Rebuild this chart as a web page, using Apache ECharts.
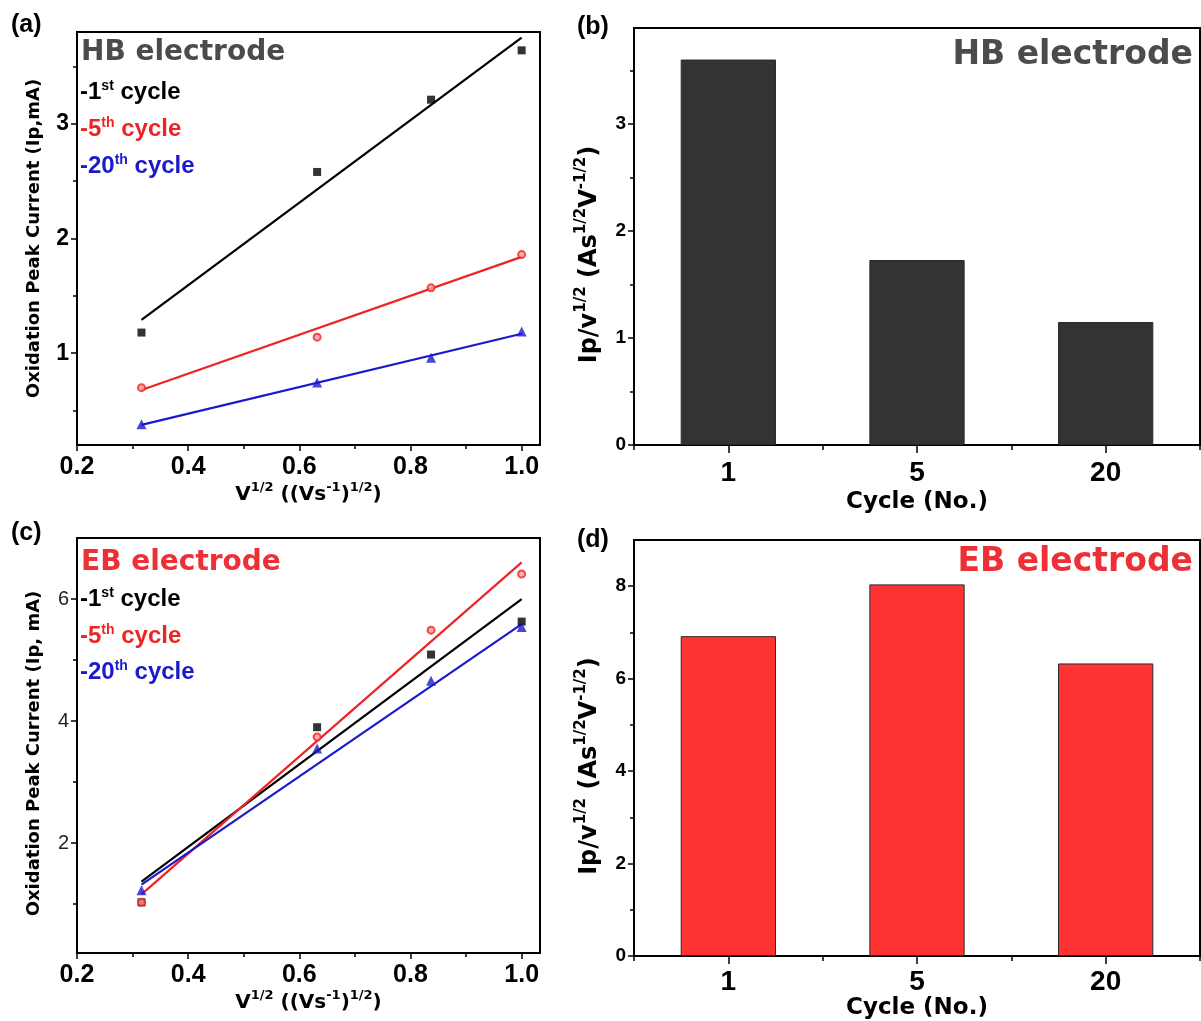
<!DOCTYPE html>
<html>
<head>
<meta charset="utf-8">
<script src="https://cdn.jsdelivr.net/npm/echarts@6/dist/echarts.min.js"></script>
<style>
  html, body { margin: 0; padding: 0; background: #fff; }
  #chart { width: 1201px; height: 1021px; }
</style>
</head>
<body>
<div id="chart"></div>
<script>
// Square root of scan rate, (V/s)^1/2
const sqrtScanRate = [0.316, 0.632, 0.837, 1.0];
// Ends of the linear fits (first and last scan rate)
const fitRange = [0.316, 1.0];

// HB electrode: oxidation peak current (mA)
const hbCycle1 = [1.18, 2.58, 3.21, 3.64];
const hbCycle5 = [0.70, 1.14, 1.57, 1.86];
const hbCycle20 = [0.38, 0.745, 0.96, 1.19];
const hbFit1 = [1.29, 3.75];
const hbFit5 = [0.68, 1.84];
const hbFit20 = [0.375, 1.17];

// EB electrode: oxidation peak current (mA)
const ebCycle1 = [1.03, 3.90, 5.09, 5.63];
const ebCycle5 = [1.03, 3.74, 5.49, 6.41];
const ebCycle20 = [1.23, 3.55, 4.66, 5.54];
const ebFit1 = [1.37, 6.00];
const ebFit5 = [1.16, 6.60];
const ebFit20 = [1.32, 5.59];

// Slope Ip / v^1/2 per cycle
const cycleLabels = ['1', '5', '20'];
const hbSlope = [3.605, 1.73, 1.15];
const ebSlope = [6.92, 8.04, 6.33];

// Tick values
const scanTicks = [0.2, 0.4, 0.6, 0.8, 1.0];
const scanMinorTicks = [0.3, 0.5, 0.7, 0.9];
const hbCurrentTicks = [1, 2, 3];
const hbCurrentMinorTicks = [0.5, 1.5, 2.5, 3.5];
const ebCurrentTicks = [2, 4, 6];
const ebCurrentMinorTicks = [1, 3, 5];
const hbSlopeTicks = [0, 1, 2, 3];
const hbSlopeMinorTicks = [0.5, 1.5, 2.5, 3.5];
const ebSlopeTicks = [0, 2, 4, 6, 8];
const ebSlopeMinorTicks = [1, 3, 5, 7];

const BLACK = '#000000';
const RED = '#ee2424';
const BLUE = '#1a1acc';
const SANS = '"Liberation Sans", Arial, sans-serif';
const WIDE = '"DejaVu Sans", sans-serif';

const chart = echarts.init(document.getElementById('chart'));

const grids = [
  { left: 77, top: 32, width: 463, height: 413 },   // (a)
  { left: 634, top: 28, width: 566, height: 417 },  // (b)
  { left: 77, top: 538, width: 463, height: 415 },  // (c)
  { left: 634, top: 540, width: 566, height: 417 }  // (d)
].map(g => Object.assign({ show: true, borderColor: '#000', borderWidth: 2, backgroundColor: 'transparent' }, g));

// Rich styles for axis names with superscripts
const supRich = (size, base) => ({
  b: { fontFamily: base.family, fontWeight: 'bold', fontSize: base.size, color: '#000', lineHeight: base.size + 8 },
  s: { fontFamily: base.family, fontWeight: 'bold', fontSize: size, color: '#000', verticalAlign: 'top', lineHeight: size }
});

function valueAxis(gridIndex, min, max, ticks, opts) {
  return Object.assign({
    type: 'value', gridIndex, min, max,
    axisLine: { show: true, onZero: false, lineStyle: { color: '#000', width: 2 } },
    axisTick: { show: true, inside: false, length: 6, lineStyle: { color: '#000', width: 1.5 }, customValues: ticks },
    axisLabel: { customValues: ticks, color: '#000', fontFamily: SANS, fontWeight: 'bold', fontSize: 23, margin: 8 },
    splitLine: { show: false }
  }, opts || {});
}
function minorAxis(gridIndex, min, max, ticks, type, position) {
  return {
    type: type || 'value', gridIndex, min, max, position,
    axisLine: { show: false },
    axisTick: { show: true, inside: false, length: 4, lineStyle: { color: '#000', width: 1.5 }, customValues: ticks },
    axisLabel: { show: false },
    splitLine: { show: false }
  };
}

const scanName = '{b|V}{s|1/2}{b| ((Vs}{s|-1}{b|)}{s|1/2}{b|)}';
const scanRich = supRich(13, { family: WIDE, size: 20 });
const slopeName = '{b|Ip/v}{s|1/2}{b| (As}{s|1/2}{b|V}{s|-1/2}{b|)}';
const slopeRich = supRich(15, { family: WIDE, size: 24 });

const xAxes = [
  // (a)
  valueAxis(0, 0.2, 1.033, scanTicks, {
    axisLabel: { customValues: scanTicks, color: '#000', fontFamily: SANS, fontWeight: 'bold', fontSize: 25, margin: 10,
      formatter: v => v.toFixed(1) },
    name: scanName, nameLocation: 'middle', nameGap: 34, nameTextStyle: { rich: scanRich }
  }),
  minorAxis(0, 0.2, 1.033, scanMinorTicks, 'value', 'bottom'),
  // (b)
  {
    type: 'category', gridIndex: 1, data: cycleLabels,
    axisLine: { show: true, lineStyle: { color: '#000', width: 2 } },
    axisTick: { show: true, alignWithLabel: true, length: 8, lineStyle: { color: '#000', width: 1.5 } },
    axisLabel: { color: '#000', fontFamily: SANS, fontWeight: 'bold', fontSize: 28, margin: 14 },
    name: 'Cycle (No.)', nameLocation: 'middle', nameGap: 46,
    nameTextStyle: { fontFamily: WIDE, fontWeight: 'bold', fontSize: 23, color: '#000' }
  },
  {
    type: 'category', gridIndex: 1, data: cycleLabels, position: 'bottom',
    axisLine: { show: false },
    axisTick: { show: true, length: 5, lineStyle: { color: '#000', width: 1.5 } },
    axisLabel: { show: false }
  },
  // (c)
  valueAxis(2, 0.2, 1.033, scanTicks, {
    axisLabel: { customValues: scanTicks, color: '#000', fontFamily: SANS, fontWeight: 'bold', fontSize: 25, margin: 10,
      formatter: v => v.toFixed(1) },
    name: scanName, nameLocation: 'middle', nameGap: 34, nameTextStyle: { rich: scanRich }
  }),
  minorAxis(2, 0.2, 1.033, scanMinorTicks, 'value', 'bottom'),
  // (d)
  {
    type: 'category', gridIndex: 3, data: cycleLabels,
    axisLine: { show: true, lineStyle: { color: '#000', width: 2 } },
    axisTick: { show: true, alignWithLabel: true, length: 8, lineStyle: { color: '#000', width: 1.5 } },
    axisLabel: { color: '#000', fontFamily: SANS, fontWeight: 'bold', fontSize: 28, margin: 12 },
    name: 'Cycle (No.)', nameLocation: 'middle', nameGap: 32,
    nameTextStyle: { fontFamily: WIDE, fontWeight: 'bold', fontSize: 23, color: '#000' }
  },
  {
    type: 'category', gridIndex: 3, data: cycleLabels, position: 'bottom',
    axisLine: { show: false },
    axisTick: { show: true, length: 5, lineStyle: { color: '#000', width: 1.5 } },
    axisLabel: { show: false }
  }
];

const yAxes = [
  // (a)
  valueAxis(0, 0.2, 3.8, hbCurrentTicks, {
    name: 'Oxidation Peak Current (Ip,mA)', nameLocation: 'middle', nameGap: 34,
    nameTextStyle: { fontFamily: WIDE, fontWeight: 'bold', fontSize: 18, color: '#000' }
  }),
  minorAxis(0, 0.2, 3.8, hbCurrentMinorTicks, 'value', 'left'),
  // (b)
  valueAxis(1, 0, 3.9, hbSlopeTicks, {
    axisLabel: { customValues: hbSlopeTicks, color: '#000', fontFamily: SANS, fontWeight: 'bold', fontSize: 19, margin: 8 },
    name: slopeName, nameLocation: 'middle', nameGap: 28,
    nameTextStyle: { rich: slopeRich, padding: [0, 36, 0, 0] }
  }),
  minorAxis(1, 0, 3.9, hbSlopeMinorTicks, 'value', 'left'),
  // (c)
  valueAxis(2, 0.2, 7.0, ebCurrentTicks, {
    axisLabel: { customValues: ebCurrentTicks, color: '#222', fontFamily: SANS, fontWeight: 'normal', fontSize: 20, margin: 8 },
    name: 'Oxidation Peak Current (Ip, mA)', nameLocation: 'middle', nameGap: 34,
    nameTextStyle: { fontFamily: WIDE, fontWeight: 'bold', fontSize: 18, color: '#000', padding: [0, 16, 0, 0] }
  }),
  minorAxis(2, 0.2, 7.0, ebCurrentMinorTicks, 'value', 'left'),
  // (d)
  valueAxis(3, 0, 9, ebSlopeTicks, {
    axisLabel: { customValues: ebSlopeTicks, color: '#000', fontFamily: SANS, fontWeight: 'bold', fontSize: 19, margin: 8 },
    name: slopeName, nameLocation: 'middle', nameGap: 28,
    nameTextStyle: { rich: slopeRich, padding: [0, 36, 0, 0] }
  }),
  minorAxis(3, 0, 9, ebSlopeMinorTicks, 'value', 'left')
];

const pairs = (xs, ys) => xs.map((x, i) => [x, ys[i]]);

function fitLine(xAxis, yAxis, ys, color) {
  return {
    type: 'line', xAxisIndex: xAxis, yAxisIndex: yAxis, data: pairs(fitRange, ys),
    showSymbol: false, silent: true, z: 2,
    lineStyle: { color, width: 2.2 }
  };
}
function markers(xAxis, yAxis, ys, color, symbol, size) {
  const hollow = symbol === 'emptyCircle';
  return {
    type: 'scatter', xAxisIndex: xAxis, yAxisIndex: yAxis, data: pairs(sqrtScanRate, ys),
    symbol: hollow ? 'circle' : symbol, symbolSize: size, z: 3,
    itemStyle: hollow ? { color: '#ff9a9a', borderColor: color, borderWidth: 2 } : { color }
  };
}
function bars(xAxis, yAxis, values, color) {
  return {
    type: 'bar', xAxisIndex: xAxis, yAxisIndex: yAxis, data: values, barWidth: '50.5%',
    itemStyle: { color, borderColor: '#2a2a2a', borderWidth: 1 }
  };
}

const series = [
  // (a) HB peak current vs sqrt scan rate
  fitLine(0, 0, hbFit1, BLACK), fitLine(0, 0, hbFit5, RED), fitLine(0, 0, hbFit20, BLUE),
  markers(0, 0, hbCycle1, BLACK, 'rect', 8), markers(0, 0, hbCycle5, RED, 'emptyCircle', 7),
  markers(0, 0, hbCycle20, BLUE, 'triangle', 10),
  // (b) HB slopes
  bars(2, 2, hbSlope, '#333333'),
  // (c) EB peak current vs sqrt scan rate
  fitLine(4, 4, ebFit1, BLACK), fitLine(4, 4, ebFit5, RED), fitLine(4, 4, ebFit20, BLUE),
  markers(4, 4, ebCycle1, BLACK, 'rect', 8), markers(4, 4, ebCycle5, RED, 'emptyCircle', 7),
  markers(4, 4, ebCycle20, BLUE, 'triangle', 10),
  // (d) EB slopes
  bars(6, 6, ebSlope, '#ff3333')
];

// Rich styles for the in-plot cycle labels (zrender text props)
const legendRich = (color) => ({
  b: { fontFamily: SANS, fontWeight: 'bold', fontSize: 24, fill: color, lineHeight: 26 },
  s: { fontFamily: SANS, fontWeight: 'bold', fontSize: 14, fill: color, verticalAlign: 'top', lineHeight: 14 }
});
function text(x, y, content, rich, align) {
  return {
    type: 'text', x, y, z: 10, silent: true,
    style: { text: content, rich, align: align || 'left', verticalAlign: 'middle' }
  };
}
function plain(x, y, content, font, color, align) {
  return {
    type: 'text', x, y, z: 10, silent: true,
    style: { text: content, font, fill: color, align: align || 'left', verticalAlign: 'middle' }
  };
}

const graphic = [
  plain(11, 25, '(a)', 'bold 25px ' + SANS, '#000'),
  plain(577, 27, '(b)', 'bold 25px ' + SANS, '#000'),
  plain(11, 533, '(c)', 'bold 25px ' + SANS, '#000'),
  plain(577, 540, '(d)', 'bold 25px ' + SANS, '#000'),

  plain(81, 53, 'HB electrode', 'bold 28px ' + WIDE, '#4b4b4b'),
  text(80, 92, '{b|-1}{s|st}{b| cycle}', legendRich(BLACK)),
  text(80, 129, '{b|-5}{s|th}{b| cycle}', legendRich(RED)),
  text(80, 166, '{b|-20}{s|th}{b| cycle}', legendRich(BLUE)),
  plain(1193, 55, 'HB electrode', 'bold 33px ' + WIDE, '#4b4b4b', 'right'),

  plain(81, 563, 'EB electrode', 'bold 28px ' + WIDE, '#ec3035'),
  text(80, 599, '{b|-1}{s|st}{b| cycle}', legendRich(BLACK)),
  text(80, 636, '{b|-5}{s|th}{b| cycle}', legendRich(RED)),
  text(80, 672, '{b|-20}{s|th}{b| cycle}', legendRich(BLUE)),
  plain(1193, 562, 'EB electrode', 'bold 33px ' + WIDE, '#ec3035', 'right')
];

chart.setOption({
  animation: false,
  backgroundColor: '#ffffff',
  grid: grids,
  xAxis: xAxes,
  yAxis: yAxes,
  series,
  graphic
});
</script>
</body>
</html>
